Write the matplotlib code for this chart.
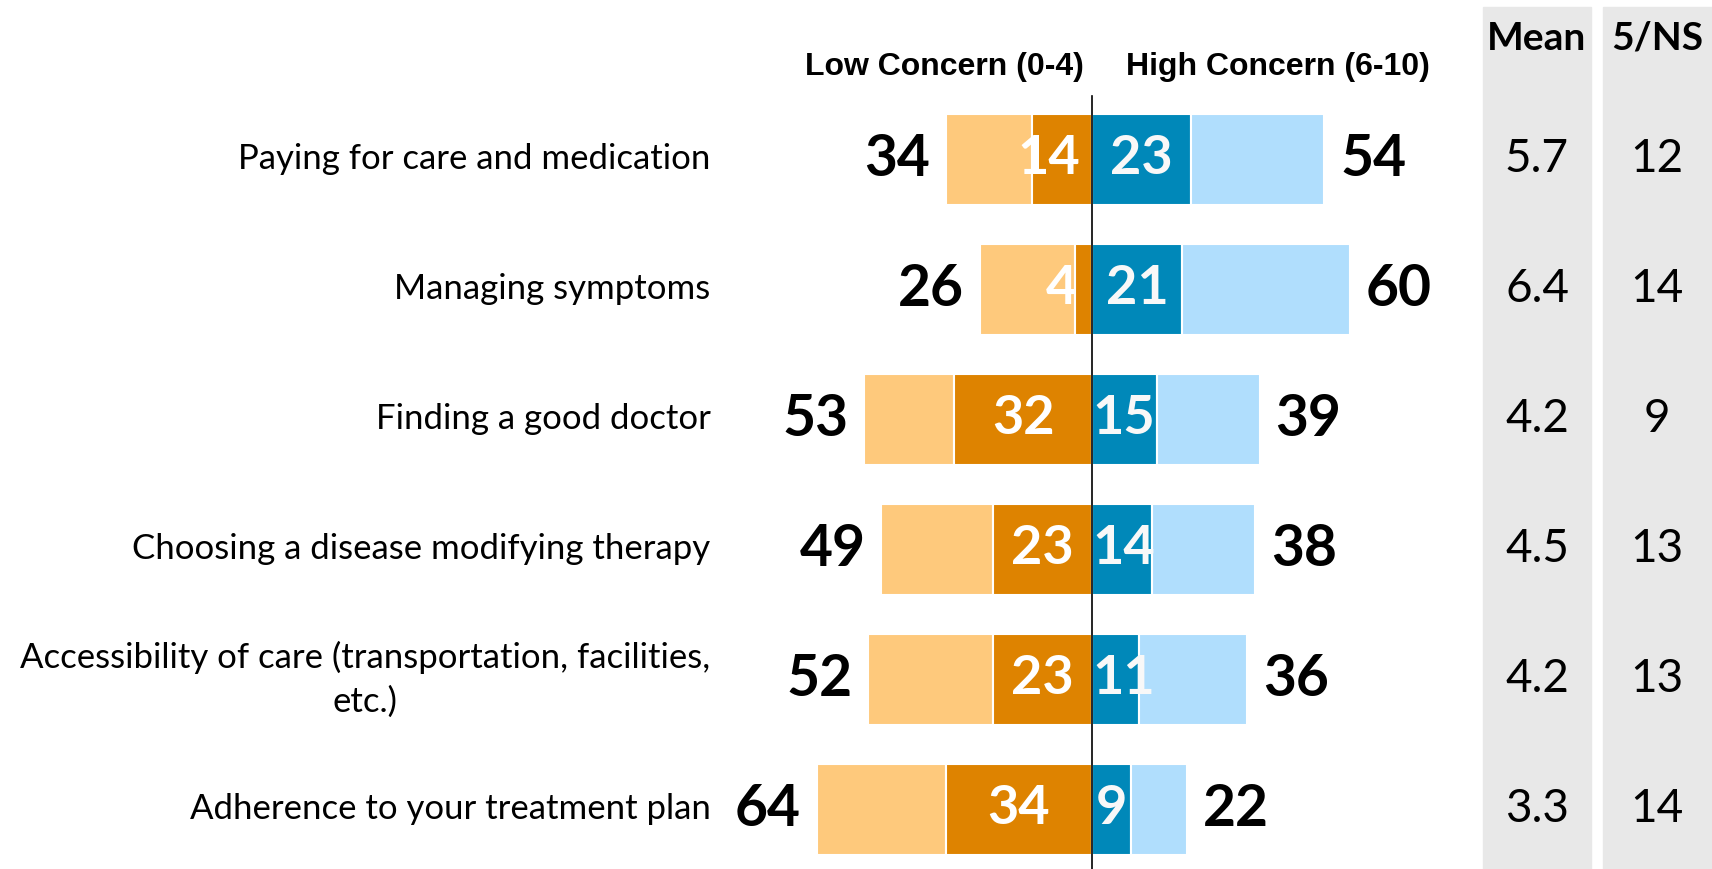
import matplotlib as mpl
mpl.use('Agg')

import matplotlib.pyplot as plt
from matplotlib.patches import Rectangle

# Data
categories = [
    "Paying for care and medication",
    "Managing symptoms",
    "Finding a good doctor",
    "Choosing a disease modifying therapy",
    "Accessibility of care (transportation, facilities,\netc.)",
    "Adherence to your treatment plan",
]
low_total = [34, 26, 53, 49, 52, 64]     # Low Concern (0-4)
low_extreme = [14, 4, 32, 23, 23, 34]    # darker part of low concern
high_extreme = [23, 21, 15, 14, 11, 9]   # darker part of high concern
high_total = [54, 60, 39, 38, 36, 22]    # High Concern (6-10)
means = ["5.7", "6.4", "4.2", "4.5", "4.2", "3.3"]
neutral = ["12", "14", "9", "13", "13", "14"]   # 5/NS

LIGHT_ORANGE = '#FEC97C'
DARK_ORANGE = '#DE8300'
DARK_BLUE = '#0088B9'
LIGHT_BLUE = '#B0DEFD'
GRAY = '#E8E8E8'

SANS = ['Lato', 'DejaVu Sans']
NARROW = ['Liberation Sans Narrow', 'Liberation Sans', 'DejaVu Sans']

W, H = 1712, 869
fig = plt.figure(figsize=(W / 100.0, H / 100.0), dpi=100)
ax = fig.add_axes([0, 0, 1, 1])

# pixel layout: center line at x=1092, 4.3 px per percent, rows 130 px apart
px_unit = 4.30
x0 = 1092
ax.set_xlim(-x0 / px_unit, (W - x0) / px_unit)
ax.set_ylim((H - 159) / 130.0, -159 / 130.0)
ax.axis('off')

# gray panels behind the Mean and 5/NS columns
for left, width in [(1483, 108), (1603, 109)]:
    fig.add_artist(Rectangle((left / float(W), 0), width / float(W), (H - 7) / float(H),
                             transform=fig.transFigure, color=GRAY, zorder=0))

rows = range(len(categories))
bh = 0.70
ax.barh(rows, [-(t - e) for t, e in zip(low_total, low_extreme)], left=[-e for e in low_extreme],
        height=bh, color=LIGHT_ORANGE, edgecolor='white', linewidth=1.5)
ax.barh(rows, [-e for e in low_extreme], height=bh, color=DARK_ORANGE, edgecolor='white', linewidth=1.5)
ax.barh(rows, high_extreme, height=bh, color=DARK_BLUE, edgecolor='white', linewidth=1.5)
ax.barh(rows, [t - e for t, e in zip(high_total, high_extreme)], left=high_extreme,
        height=bh, color=LIGHT_BLUE, edgecolor='white', linewidth=1.5)

ax.plot([0, 0], [-0.485, 10], color='black', lw=1.2, zorder=5)

tr = ax.get_yaxis_transform()
for i in rows:
    ax.text(0.415, i, categories[i], transform=tr, ha='right', va='center',
            multialignment='center', fontsize=25, family=SANS, linespacing=1.45)
    # totals outside the bars
    ax.text(-low_total[i] - 3.7, i, str(low_total[i]), ha='right', va='center',
            fontsize=41, fontweight='bold', family=SANS)
    ax.text(high_total[i] + 3.7, i, str(high_total[i]), ha='left', va='center',
            fontsize=41, fontweight='bold', family=SANS)
    # white labels in the dark segments, kept off the center line
    half = 3.0 * len(str(low_extreme[i]))
    xl = min(-low_extreme[i] / 2.0, -(4 + half))
    ax.text(xl, i, str(low_extreme[i]), ha='center', va='center', color='white',
            fontsize=39, fontweight='bold', family=SANS, zorder=6)
    half = 3.0 * len(str(high_extreme[i]))
    xr = max(high_extreme[i] / 2.0, 1.5 + half)
    ax.text(xr, i, str(high_extreme[i]), ha='center', va='center', color='#F8F8F8',
            fontsize=39, fontweight='bold', family=SANS, zorder=6)
    ax.text(1537 / float(W), i, means[i], transform=tr, ha='center', va='center',
            fontsize=33, family=SANS)
    ax.text(1657 / float(W), i, neutral[i], transform=tr, ha='center', va='center',
            fontsize=33, family=SANS)

ax.text(-2, -0.71, "Low Concern (0-4)", ha='right', va='center', fontsize=23,
        fontweight='bold', family=NARROW)
ax.text(8, -0.71, "High Concern (6-10)", ha='left', va='center', fontsize=23,
        fontweight='bold', family=NARROW)
ax.text(1537 / float(W), -0.93, "Mean", transform=tr, ha='center', va='center',
        fontsize=28, fontweight='bold', family=SANS)
ax.text(1657 / float(W), -0.93, "5/NS", transform=tr, ha='center', va='center',
        fontsize=28, fontweight='bold', family=SANS)

fig.savefig('out.png', dpi=100)
